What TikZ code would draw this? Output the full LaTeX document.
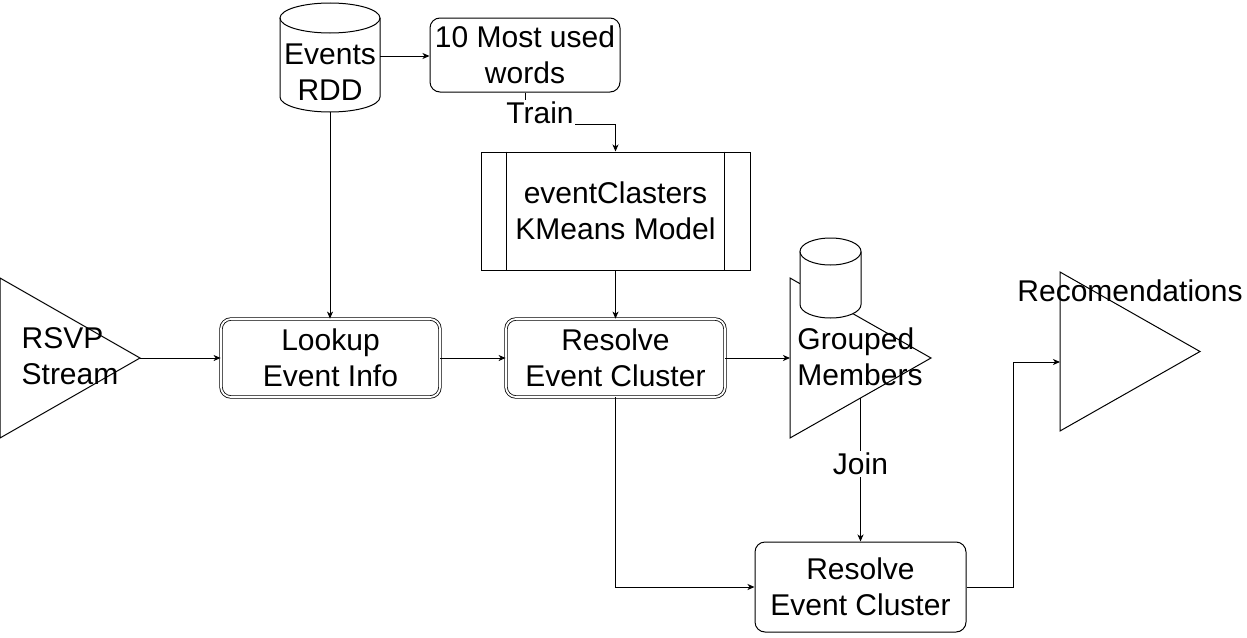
\documentclass[tikz,border=0pt]{standalone}
\usepackage{fontspec}
\setmainfont{Liberation Sans}
\usetikzlibrary{arrows.meta,calc}
\begin{document}
\begin{tikzpicture}[x=1pt,y=-1pt, line width=1pt,
 arr/.style={-{Stealth[length=7pt,width=6pt,inset=2pt]}},
 txt/.style={font=\fontsize{30}{36}\selectfont, align=center, inner sep=0pt},
 ltxt/.style={font=\fontsize{30}{36}\selectfont, align=left, inner sep=0pt},
 box/.style={txt, draw, rounded corners=10pt},
 dbox/.style={txt, draw, double, double distance=1.8pt, line width=0.8pt, rounded corners=10pt, minimum width=219pt, minimum height=78pt},
 lbl/.style={txt, fill=white, inner sep=1.5pt},
 frame/.style={inner sep=0pt, outer sep=0pt}
]
\useasboundingbox (0,0) rectangle (1247,637);

% ---- shapes ----
% Events RDD cylinder
\node[frame, minimum width=100pt, minimum height=109pt] (rdd) at (330,57.5) {};
\filldraw[fill=white] (280,18) -- (280,97) arc[start angle=180,end angle=0,x radius=50,y radius=15] -- (380,18);
\draw (330,18) ellipse[x radius=50,y radius=15];
\node[txt] (rddtxt) at (330,72.5) {Events\\RDD};

% 10 most used words
\node[box, minimum width=190pt, minimum height=74pt] (words) at (525,55) {10 Most used\\words};

% process
\node[txt, draw, minimum width=269pt, minimum height=118pt] (proc) at (615.5,211) {eventClasters\\KMeans Model};
\draw ([xshift=26pt]proc.north west) -- ([xshift=26pt]proc.south west);
\draw ([xshift=-26pt]proc.north east) -- ([xshift=-26pt]proc.south east);

% RSVP triangle
\node[frame, minimum width=140pt, minimum height=160pt] (rsvp) at (70,358) {};
\draw (rsvp.north west) -- (rsvp.east) -- (rsvp.south west) -- cycle;

% Lookup and resolve
\node[dbox] (lookup) at (330.5,358) {Lookup\\Event Info};
\node[dbox] (res1) at (615.5,358) {Resolve\\Event Cluster};

% Grouped members triangle
\node[frame, minimum width=141pt, minimum height=160pt] (grp) at (860.5,358) {};
\draw (grp.north west) -- (grp.east) -- (grp.south west) -- cycle;
\coordinate (grpbot) at (860.5,398);

% small cylinder
\filldraw[fill=white] (800,251.5) -- (800,304.5) arc[start angle=180,end angle=0,x radius=30.5,y radius=13.5] -- (861,251.5);
\filldraw[fill=white] (830.5,251.5) ellipse[x radius=30.5,y radius=13.5];

% Resolve 2
\node[box, minimum width=211pt, minimum height=90pt] (res2) at (860.5,587) {Resolve\\Event Cluster};

% Recommendations triangle
\node[frame, minimum width=140pt, minimum height=159pt] (rec) at (1130,351.5) {};
\draw (rec.north west) -- (rec.east) -- (rec.south west) -- cycle;
\coordinate (recin) at (1060,362);

% ---- connectors ----
\draw[arr] (rdd.east |- 0,56) -- (words.west |- 0,56);
\draw[arr] (words.south) -- ++(0,32) -| (proc.north);
\node[lbl] (train) at (540,113) {Train};
\draw[arr] (rdd.south) -- (rdd.south |- lookup.north);
\draw[arr] (proc.south) -- (res1.north);
\draw[arr] (rsvp.east) -- (lookup.west);
\draw[arr] (lookup.east) -- (res1.west);
\draw[arr] (res1.east) -- (grp.west);
\draw[arr] (grpbot) -- (grpbot |- res2.north);
\node[lbl] (join) at (860.5,464) {Join};
\draw[arr] (res1.south) |- (res2.west);
\draw[arr] (res2.east) -- ++(47,0) |- (recin);

% ---- texts over shapes ----
\node[ltxt] (rsvptxt) at (70,356) {RSVP\\Stream};
\node[ltxt] (grptxt) at (860,356.5) {Grouped\\Members};
\node[txt] (rectxt) at (1130,291) {Recomendations};
\end{tikzpicture}
\end{document}
